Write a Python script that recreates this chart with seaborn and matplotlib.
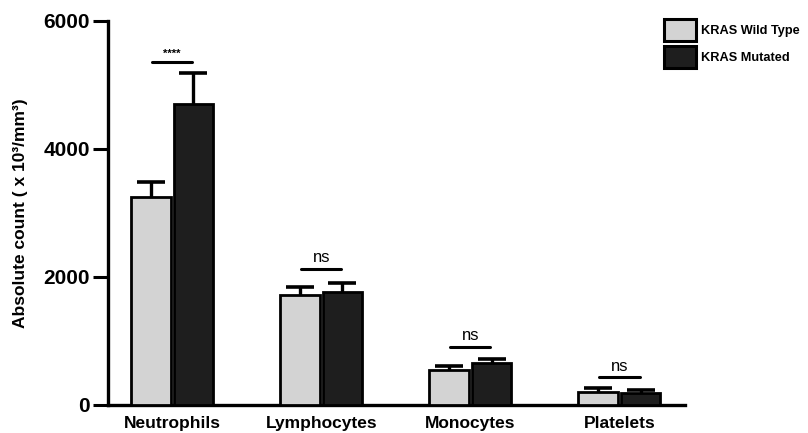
import numpy as np
import pandas as pd
import matplotlib
matplotlib.use("Agg")
import matplotlib.pyplot as plt
import matplotlib.patches as mpatches
import seaborn as sns

cells = ['Neutrophils', 'Lymphocytes', 'Monocytes', 'Platelets']
groups = ['KRAS Wild Type', 'KRAS Mutated']
wt_mean = [3255, 1719, 547, 208]
wt_err = [225, 130, 62, 57]
mut_mean = [4698, 1760, 651, 193]
mut_err = [485, 151, 67, 41]
sig_labels = ['****', 'ns', 'ns', 'ns']
sig_y = [5355, 2125, 911, 432]

colors = {'KRAS Wild Type': '#d3d3d3', 'KRAS Mutated': '#1e1e1e'}

sns.set_style("ticks")
plt.rcParams['font.family'] = ['Liberation Sans', 'DejaVu Sans']
plt.rcParams['font.weight'] = 'bold'
plt.rcParams['text.color'] = 'black'
plt.rcParams['axes.labelcolor'] = 'black'
plt.rcParams['xtick.color'] = 'black'
plt.rcParams['ytick.color'] = 'black'
plt.rcParams['axes.edgecolor'] = 'black'

df = pd.DataFrame({
    'cell': cells * 2,
    'group': [groups[0]] * 4 + [groups[1]] * 4,
    'mean': wt_mean + mut_mean,
    'err': wt_err + mut_err,
})

fig = plt.figure(figsize=(8.08, 4.33), dpi=100)
ax = fig.add_axes([108 / 808, 1 - 405 / 433, (685 - 108) / 808, (405 - 21) / 433])

sns.barplot(data=df, x='cell', y='mean', hue='group', palette=colors,
            order=cells, hue_order=groups, errorbar=None, width=0.57, gap=0.07,
            edgecolor='black', linewidth=2, ax=ax, legend=False, zorder=3)

# upper-only error bars placed on the drawn bars
bars = [p for p in ax.patches if p.get_height() > 0]
for p, (_, row) in zip(bars, df.iterrows()):
    xc = p.get_x() + p.get_width() / 2
    eb = ax.errorbar(xc, row['mean'], yerr=[[0], [row['err']]], fmt='none',
                     ecolor='black', elinewidth=2.4, capsize=10, capthick=2.6, zorder=2)
    eb[1][0].set_visible(False)  # hide the lower cap

# significance brackets
for i, (lab, y) in enumerate(zip(sig_labels, sig_y)):
    ax.plot([i - 0.135, i + 0.135], [y, y], color='black', lw=2.2)
    if lab == 'ns':
        ax.text(i, y + 60, lab, ha='center', va='bottom', fontsize=12,
                fontweight='normal')
    else:
        ax.text(i, y + 50, lab, ha='center', va='bottom', fontsize=8,
                fontweight='bold')

ax.set_ylim(0, 6000)
ax.set_xlim(-0.43, 3.44)
ax.set_yticks([0, 2000, 4000, 6000])
ax.set_xlabel('')
ax.set_ylabel('Absolute count ( x 10³/mm³)', fontsize=12.5, fontweight='bold', labelpad=11)
ax.tick_params(axis='y', length=11, width=2.2, labelsize=15, pad=2)
ax.tick_params(axis='x', length=0, labelsize=12.5, pad=8)
for lab in ax.get_yticklabels() + ax.get_xticklabels():
    lab.set_fontweight('bold')
sns.despine(ax=ax)
ax.spines['left'].set_linewidth(2.4)
ax.spines['bottom'].set_linewidth(2.4)

handles = [mpatches.Patch(facecolor=colors[g], edgecolor='black', linewidth=2.2, label=g)
           for g in groups]
fig.legend(handles=handles, loc='upper left', bbox_to_anchor=(659 / 808, 1 - 14 / 433),
           frameon=False, handlelength=2.5, handleheight=2.3,
           labelspacing=0.35, handletextpad=0.4, borderaxespad=0,
           prop={'weight': 'bold', 'size': 9.2})

fig.savefig('out.png', dpi=100)
